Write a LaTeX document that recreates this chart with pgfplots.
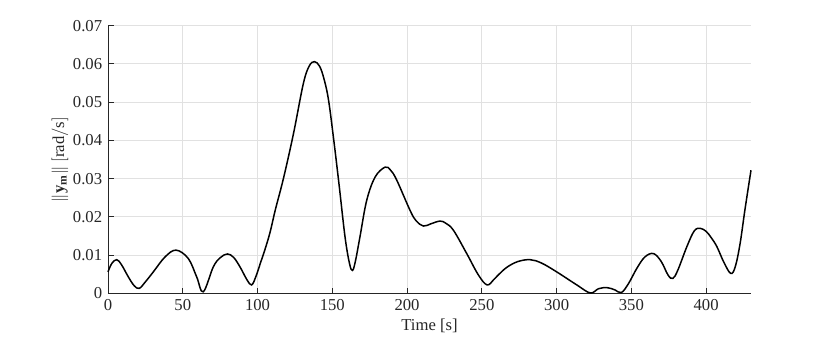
\documentclass[border=0pt]{standalone}
\usepackage{fontspec}
\setmainfont{Liberation Serif}
\usepackage{pgfplots}
\pgfplotsset{compat=1.18}
\definecolor{axgray}{RGB}{38,38,38}
\definecolor{gridgray}{RGB}{225,225,225}
\begin{document}
\begin{tikzpicture}
\begin{axis}[
    at={(0pt,0pt)}, anchor=south west,
    scale only axis,
    width=385.8pt, height=160.6pt,
    xmin=0, xmax=430, ymin=0, ymax=0.07,
    axis x line=bottom, axis y line=left,
    axis line style={axgray, -, line width=0.5pt},
    xtick={0,50,...,400},
    ytick={0,0.01,0.02,0.03,0.04,0.05,0.06,0.07},
    scaled y ticks=false,
    yticklabel style={/pgf/number format/fixed, /pgf/number format/precision=2},
    /pgf/number format/assume math mode=true,
    tick align=inside,
    tick style={axgray, line width=0.5pt},
    major tick length=3.5pt,
    grid=major,
    grid style={gridgray, line width=0.5pt},
    ticklabel style={font=\fontsize{10}{12}\selectfont, text=axgray},
    label style={font=\fontsize{10}{12}\selectfont, text=axgray},
    xlabel={Time [s]},
    ylabel={$\|\mathbf{y}_\mathbf{m}\|\ [\mathrm{rad/s}]$},
    ylabel shift=-4pt,
    xlabel style={yshift=2pt},
    clip=false,
]
\addplot[black, line width=0.9pt, smooth, tension=0.6] coordinates {
(0,0.0056) (2.5,0.0078) (5.8,0.0088) (9,0.0075) (13.6,0.0043) (17.5,0.0020)
(20.9,0.0013) (25,0.0030) (30.3,0.0056) (38.1,0.0095) (45.5,0.0113) (53.7,0.0091)
(59.3,0.0043) (63.7,0.0004) (70.4,0.0069) (75,0.0093) (79.8,0.0103) (84,0.0094)
(88.3,0.0069) (93,0.0035) (96.1,0.0022) (99,0.0045) (102,0.0080) (105,0.0115)
(108.4,0.0160) (112,0.0220) (117.3,0.0300) (124,0.0417) (130.6,0.0548) (134.5,0.0594)
(138,0.0606) (141.5,0.0594) (144.5,0.0560) (147.5,0.0505) (151,0.0400) (154.5,0.0285)
(158.5,0.0148) (161.5,0.0078) (163.5,0.0060) (165.5,0.0085) (168.6,0.0150) (173,0.0243)
(178.6,0.0304) (185.3,0.0330) (189,0.0322) (193.1,0.0296) (202,0.0217) (206,0.0190)
(210.9,0.0176) (216,0.0182) (222.1,0.0189) (226,0.0183) (231,0.0165) (239.9,0.0104)
(247.7,0.0048) (253.5,0.0022) (258,0.0036) (261,0.0048) (266.7,0.0068) (274,0.0083)
(282.3,0.0088) (290,0.0079) (300.1,0.0056) (313.5,0.0022) (322.5,0.0001) (328,0.0012)
(333.6,0.0015) (339,0.0009) (343.3,0.0002) (348,0.0025) (353.6,0.0065) (359,0.0095)
(364.8,0.0104) (370,0.0083) (374.5,0.0048) (377.7,0.0039) (381,0.0060) (387.1,0.0122)
(392,0.0163) (396,0.0170) (400,0.0162) (403.5,0.0145) (407.2,0.0122) (412,0.0080)
(416.5,0.0052) (419.5,0.0070) (422.7,0.0130) (426,0.0220) (430,0.0322)
};
\end{axis}
\useasboundingbox (-64.8pt,-27.4pt) rectangle (433.2pt,176pt);
\end{tikzpicture}
\end{document}
